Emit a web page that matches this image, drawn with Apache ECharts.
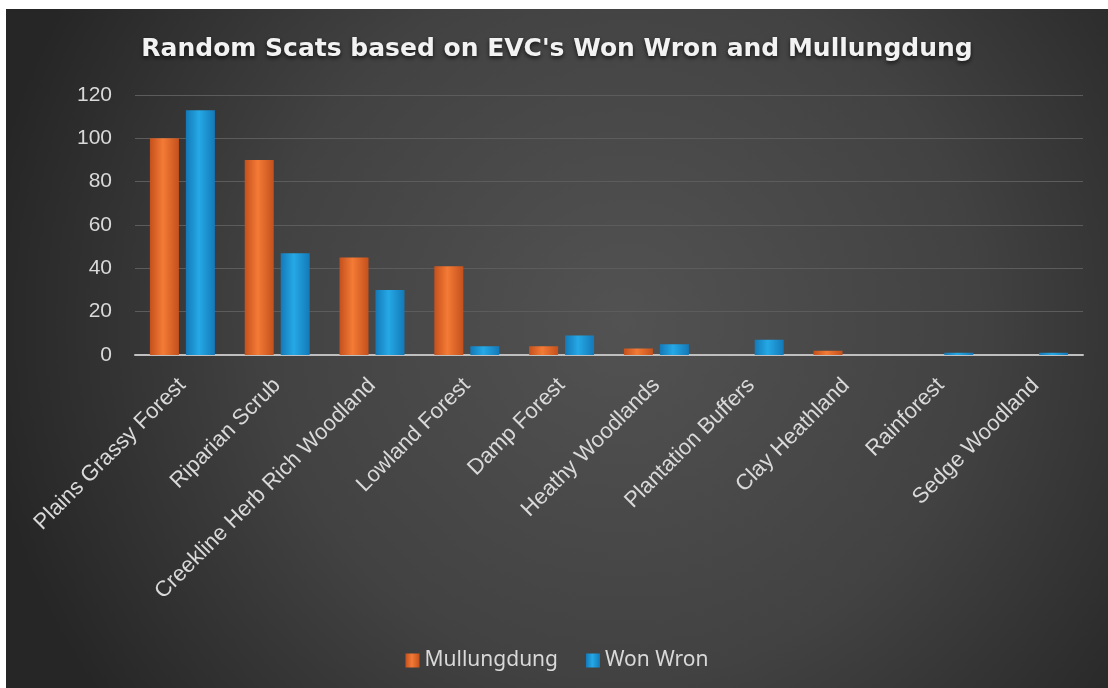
<!DOCTYPE html>
<html>
<head>
<meta charset="utf-8">
<title>Random Scats based on EVC's</title>
<script src="https://cdn.jsdelivr.net/npm/echarts@6/dist/echarts.min.js"></script>
<style>
  html, body { margin: 0; padding: 0; background: #fff; }
  #chart { position: absolute; left: 6px; top: 9px; width: 1102px; height: 679px; }
</style>
</head>
<body>
<div id="chart"></div>
<script>
  // categories and counts
  var categories = ['Plains Grassy Forest', 'Riparian Scrub', 'Creekline Herb Rich Woodland', 'Lowland Forest',
    'Damp Forest', 'Heathy Woodlands', 'Plantation Buffers', 'Clay Heathland', 'Rainforest', 'Sedge Woodland'];
  var mullungdung = [100, 90, 45, 41, 4, 3, 0, 2, 0, 0];
  var wonWron = [113, 47, 30, 4, 9, 5, 7, 0, 1, 1];
  var yTicks = { min: 0, max: 120, step: 20 };

  // horizontal shading so the bars look a bit rounded
  function barFill(edge, mid) {
    return {
      type: 'linear', x: 0, y: 0, x2: 1, y2: 0,
      colorStops: [
        { offset: 0, color: edge },
        { offset: 0.45, color: mid },
        { offset: 1, color: edge }
      ]
    };
  }

  var chart = echarts.init(document.getElementById('chart'));
  chart.setOption({
    backgroundColor: {
      type: 'radial', x: 0.56, y: 0.46, r: 0.95,
      colorStops: [
        { offset: 0, color: '#525252' },
        { offset: 0.55, color: '#424242' },
        { offset: 1, color: '#262626' }
      ]
    },
    title: {
      text: "Random Scats based on EVC's Won Wron and Mullungdung",
      left: 'center',
      top: 23,
      textStyle: {
        fontFamily: 'DejaVu Sans',
        fontWeight: 'bold',
        fontSize: 25,
        color: '#f2f2f2',
        textShadowColor: 'rgba(0,0,0,0.7)',
        textShadowBlur: 4,
        textShadowOffsetY: 2
      }
    },
    legend: {
      top: 636,
      left: 'center',
      icon: 'rect',
      itemWidth: 14,
      itemHeight: 14,
      itemGap: 28,
      textStyle: { fontFamily: 'Noto Sans', fontSize: 21, color: '#d9d9d9' },
      data: ['Mullungdung', 'Won Wron']
    },
    grid: { left: 129, right: 25, top: 86, bottom: 333, containLabel: false },
    xAxis: {
      type: 'category',
      data: categories,
      axisTick: { show: false },
      axisLine: { lineStyle: { color: '#bfbfbf', width: 2 } },
      axisLabel: {
        interval: 0,
        rotate: 45,
        margin: 27,
        fontFamily: 'Liberation Sans',
        fontSize: 22,
        color: '#d9d9d9'
      }
    },
    yAxis: {
      type: 'value',
      min: yTicks.min,
      max: yTicks.max,
      interval: yTicks.step,
      axisLine: { show: false },
      axisTick: { show: false },
      splitLine: { lineStyle: { color: '#5c5c5c', width: 1 } },
      axisLabel: { margin: 23, fontFamily: 'Liberation Sans', fontSize: 21, color: '#d9d9d9' }
    },
    series: [
      {
        name: 'Mullungdung',
        type: 'bar',
        barWidth: 29,
        barGap: '24%',
        itemStyle: { color: barFill('#c4501c', '#f47b36') },
        data: mullungdung
      },
      {
        name: 'Won Wron',
        type: 'bar',
        barWidth: 29,
        itemStyle: { color: barFill('#1479b8', '#25a9e6') },
        data: wonWron
      }
    ]
  });
</script>
</body>
</html>
